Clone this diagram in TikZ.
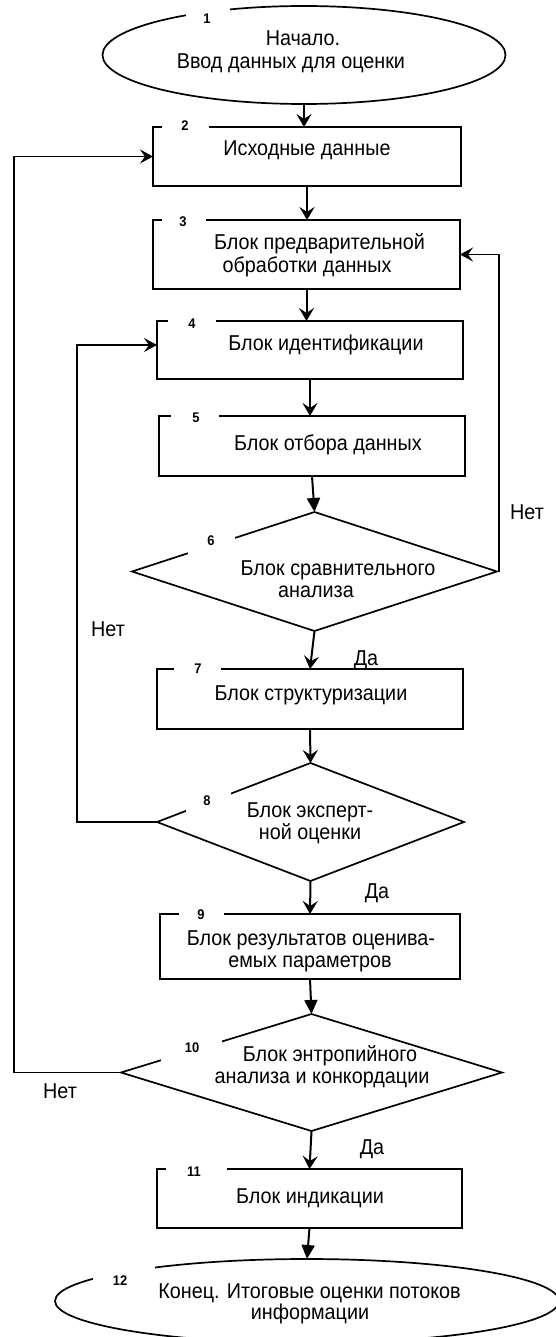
\documentclass[tikz,border=0pt]{standalone}
\usepackage{fontspec}
\setmainfont{Liberation Sans}[FakeStretch=0.92]
\usetikzlibrary{shapes.geometric,arrows.meta}
\begin{document}
\begin{tikzpicture}[x=1pt,y=-1pt,
  shp/.style={draw=black, line width=1.7pt, inner sep=0pt, outer sep=0pt},
  box/.style={shp, rectangle},
  dia/.style={shp, diamond},
  ell/.style={shp, ellipse},
  txt/.style={anchor=base, inner sep=0pt, font=\fontsize{21.5}{24}\selectfont},
  num/.style={inner sep=0pt, font=\fontsize{14}{16}\selectfont\bfseries},
  gap/.style={fill=white, inner sep=0pt, outer sep=0pt},
  arr/.style={line width=2pt, -{Stealth[length=13pt,width=15pt,inset=5pt]}},
  arrf/.style={line width=2pt, -{Triangle[length=14pt,width=13pt]}},
  fb/.style={line width=1.6pt},
  fba/.style={fb, -{Stealth[length=13pt,width=14pt,inset=5pt]}},
]
\useasboundingbox (0,0) rectangle (556,1337);

% 1
\node[ell, minimum width=403pt, minimum height=98pt] (e1) at (304,55) {};
\node[gap, minimum width=44pt, minimum height=12pt] (g1) at (208,12) {};
\node[num] (n1) at (207,19) {1};
\node[txt] (t1a) at (303,45.7) {Начало.};
\node[txt] (t1b) at (291,68.3) {Ввод данных для оценки};

% 2
\node[box, minimum width=308pt, minimum height=59pt] (b2) at (307,156.5) {};
\node[gap, minimum width=47pt, minimum height=8pt] (g2) at (185.5,127) {};
\node[num] (n2) at (185,126) {2};
\node[txt] (t2) at (307,156) {Исходные данные};

% 3
\node[box, minimum width=307pt, minimum height=69pt] (b3) at (306.5,254.5) {};
\node[gap, minimum width=44pt, minimum height=8pt] (g3) at (184,220) {};
\node[num] (n3) at (183,222) {3};
\node[txt] (t3a) at (319.5,250) {Блок предварительной};
\node[txt] (t3b) at (307,273) {обработки данных};

% 4
\node[box, minimum width=306pt, minimum height=58pt] (b4) at (310,350) {};
\node[gap, minimum width=48pt, minimum height=8pt] (g4) at (192,321) {};
\node[num] (n4) at (192,323.5) {4};
\node[txt] (t4) at (326,350) {Блок идентификации};

% 5
\node[box, minimum width=306pt, minimum height=60pt] (b5) at (312,446) {};
\node[gap, minimum width=48pt, minimum height=8pt] (g5) at (195,416) {};
\node[num] (n5) at (196,418) {5};
\node[txt] (t5) at (328,450) {Блок отбора данных};

% 6
\node[dia, minimum width=365pt, minimum height=119pt] (d6) at (314.5,571.5) {};
\node[gap, minimum width=47pt, minimum height=19pt] (g6) at (211.5,545.5) {};
\node[num] (n6) at (211,540.5) {6};
\node[txt] (t6a) at (338,575) {Блок сравнительного};
\node[txt] (t6b) at (316,597) {анализа};

% 7
\node[box, minimum width=306pt, minimum height=60pt] (b7) at (310,699) {};
\node[gap, minimum width=47pt, minimum height=8pt] (g7) at (197.5,669) {};
\node[num] (n7) at (198,668.5) {7};
\node[txt] (t7) at (311,700) {Блок структуризации};

% 8
\node[dia, minimum width=307pt, minimum height=118pt] (d8) at (310.5,822) {};
\node[gap, minimum width=45pt, minimum height=22pt] (g8) at (208.5,802) {};
\node[num] (n8) at (207,800.5) {8};
\node[txt] (t8a) at (310,817) {Блок эксперт-};
\node[txt] (t8b) at (310,839) {ной оценки};

% 9
\node[box, minimum width=300pt, minimum height=65pt] (b9) at (310,946.5) {};
\node[gap, minimum width=45pt, minimum height=8pt] (g9) at (201.5,914) {};
\node[num] (n9) at (201,914.5) {9};
\node[txt] (t9a) at (311,945) {Блок результатов оценива-};
\node[txt] (t9b) at (310,967) {емых параметров};

% 10
\node[dia, minimum width=381pt, minimum height=117pt] (d10) at (311.5,1072.5) {};
\node[gap, minimum width=61pt, minimum height=24pt] (g10) at (191.5,1051) {};
\node[num] (n10) at (192,1047.5) {10};
\node[txt] (t10a) at (330,1061) {Блок энтропийного};
\node[txt] (t10b) at (322,1083) {анализа и конкордации};

% 11
\node[box, minimum width=305pt, minimum height=59pt] (b11) at (309.5,1198.5) {};
\node[gap, minimum width=61pt, minimum height=8pt] (g11) at (196.5,1169) {};
\node[num] (n11) at (194,1171.5) {11};
\node[txt] (t11) at (310,1203) {Блок индикации};

% 12
\node[ell, minimum width=504pt, minimum height=84pt] (e12) at (307,1301) {};
\node[gap, minimum width=62pt, minimum height=16pt] (g12) at (124,1273) {};
\node[num] (n12) at (120,1280.5) {12};
\node[txt] (t12a) at (309.5,1298) {Конец. Итоговые оценки потоков};
\node[txt] (t12b) at (310,1319) {информации};

% labels
\node[txt] (no6) at (527,519) {Нет};
\node[txt] (y6) at (366,665) {Да};
\node[txt] (no8) at (108,636) {Нет};
\node[txt] (y8) at (377,898) {Да};
\node[txt] (no10) at (60,1098) {Нет};
\node[txt] (y10) at (372,1154) {Да};

% main flow
\draw[arr] (e1.south) -- (e1.south |- b2.north);
\draw[arr] (b2.south) -- (b2.south |- b3.north);
\draw[arr] (b3.south) -- (b3.south |- b4.north);
\draw[arr] (b4.south) -- (b4.south |- b5.north);
\draw[arrf] (b5.south) -- (d6.north);
\draw[arr] (d6.south) -- (b7.north);
\draw[arr] (b7.south) -- (d8.north);
\draw[arr] (d8.south) -- (b9.north);
\draw[arrf] (b9.south) -- (d10.north);
\draw[arr] (d10.south) -- (b11.north);
\draw[arrf] (b11.south) -- (e12.north);

% feedback
\coordinate (r6) at (499,571.5);
\draw[fba] (d6.east) -- (r6) |- (b3.east);
\coordinate (l8) at (77,822);
\draw[fba] (d8.west) -- (l8) |- ([yshift=5pt]b4.west);
\coordinate (l10) at (14,1072.5);
\draw[fba] (d10.west) -- (l10) |- (b2.west);
\end{tikzpicture}
\end{document}
